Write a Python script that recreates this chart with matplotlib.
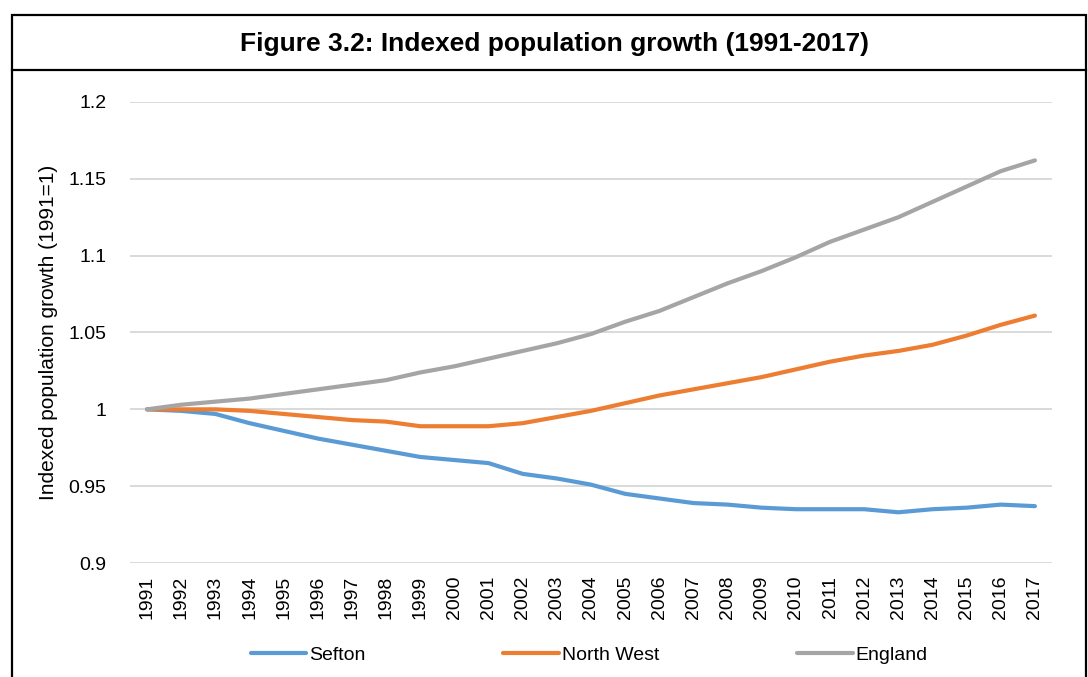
import matplotlib
matplotlib.use("Agg")
import matplotlib.pyplot as plt
from matplotlib.lines import Line2D
from matplotlib.patches import Rectangle

plt.rcParams['font.family'] = ['Liberation Sans', 'DejaVu Sans']

# ---- data ----
years = list(range(1991, 2018))
sefton = [1.000, 0.999, 0.997, 0.991, 0.986, 0.981, 0.977, 0.973, 0.969, 0.967,
          0.965, 0.958, 0.955, 0.951, 0.945, 0.942, 0.939, 0.938, 0.936, 0.935,
          0.935, 0.935, 0.933, 0.935, 0.936, 0.938, 0.937]
north_west = [1.000, 1.000, 1.000, 0.999, 0.997, 0.995, 0.993, 0.992, 0.989, 0.989,
              0.989, 0.991, 0.995, 0.999, 1.004, 1.009, 1.013, 1.017, 1.021, 1.026,
              1.031, 1.035, 1.038, 1.042, 1.048, 1.055, 1.061]
england = [1.000, 1.003, 1.005, 1.007, 1.010, 1.013, 1.016, 1.019, 1.024, 1.028,
           1.033, 1.038, 1.043, 1.049, 1.057, 1.064, 1.073, 1.082, 1.090, 1.099,
           1.109, 1.117, 1.125, 1.135, 1.145, 1.155, 1.162]
series_names = ["Sefton", "North West", "England"]
series_colors = ["#5B9BD5", "#ED7D31", "#A5A5A5"]
y_ticks = [0.9, 0.95, 1.0, 1.05, 1.1, 1.15, 1.2]
y_tick_labels = ["0.9", "0.95", "1", "1.05", "1.1", "1.15", "1.2"]

fig = plt.figure(figsize=(10.88, 6.77), dpi=100)

# outer frame + title divider
fig.patches.append(Rectangle((12 / 1088, -0.01), (1086 - 12) / 1088, 1 - 15 / 677 + 0.01,
                             transform=fig.transFigure, fill=False, lw=1.6,
                             edgecolor="black"))
fig.lines.append(Line2D([12 / 1088, 1086 / 1088], [1 - 70 / 677, 1 - 70 / 677],
                        transform=fig.transFigure, color="black", lw=1.6))
fig.text(555 / 1088, 1 - 44 / 677, "Figure 3.2: Indexed population growth (1991-2017)",
         ha="center", va="center", fontsize=19, fontweight="bold")

ax = fig.add_axes([130 / 1088, 1 - 563 / 677, (1052 - 130) / 1088, (563 - 102) / 677])
for name, vals, col in zip(series_names, [sefton, north_west, england], series_colors):
    ax.plot(years, vals, color=col, lw=3, label=name, solid_capstyle="round")

ax.set_xlim(1990.5, 2017.5)
ax.set_ylim(0.9, 1.2)
ax.set_yticks(y_ticks)
ax.set_yticklabels(y_tick_labels, fontsize=14)
ax.set_xticks(years)
ax.set_xticklabels([str(y) for y in years], rotation=90, fontsize=14)
ax.tick_params(length=0, pad=9)
ax.tick_params(axis="y", pad=17)
ax.grid(axis="y", color="#D9D9D9", lw=1.4)
ax.set_axisbelow(True)
for s in ax.spines.values():
    s.set_visible(False)
ax.set_ylabel("Indexed population growth (1991=1)", fontsize=15)
ax.yaxis.set_label_coords((58 - 130) / 922, 0.5)

fig.legend(loc="center", bbox_to_anchor=(0.5415, 1 - 655 / 677), ncol=3, frameon=False,
           fontsize=14, handlelength=2.85, handletextpad=0.15, columnspacing=7.1)

fig.savefig("out.png", dpi=100)
